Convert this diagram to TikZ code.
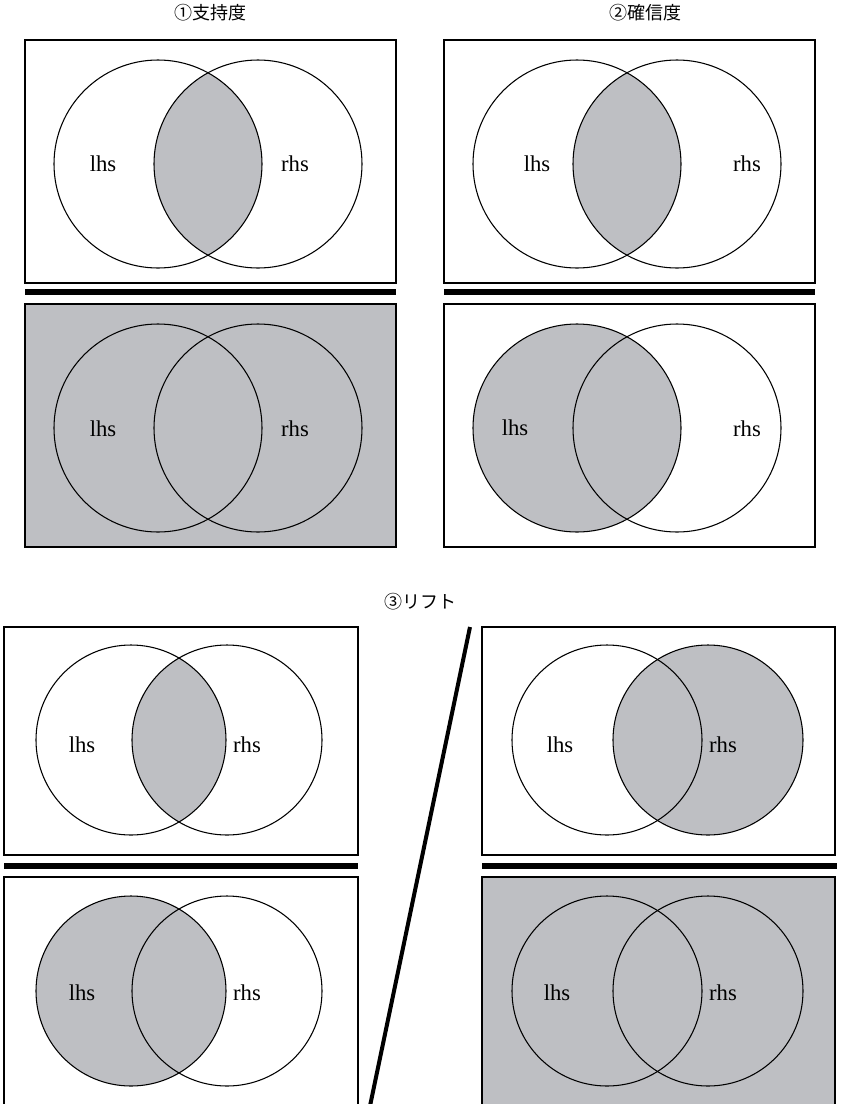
\documentclass[tikz,border=0pt]{standalone}
\usepackage{fontspec}
\setmainfont{Liberation Serif}
\newfontfamily\cjk{Noto Sans CJK JP}
\definecolor{vennfill}{RGB}{190,191,195}

\begin{document}
\begin{tikzpicture}[x=0.75pt,y=-0.75pt,
    box/.style={draw, line width=1.1pt},
    bar/.style={line width=4.6pt},
    venn/.style={draw, line width=0.8pt},
    lbl/.style={font=\fontsize{17}{20}\selectfont},
    ttl/.style={font=\cjk\fontsize{13.5}{16}\selectfont}]

        \useasboundingbox (0,0) rectangle (840,1104);

        % (1) support
        \node[ttl] (t1) at (210,13) {①支持度};
        \draw[box] (25,40) rectangle (396,283);
        \begin{scope}
            \clip (158,164) circle (104);
            \fill[vennfill] (258,164) circle (104);
        \end{scope}
        \draw[venn] (158,164) circle (104);
        \draw[venn] (258,164) circle (104);
        \node[lbl] (l1a) at (103,164) {lhs};
        \node[lbl] (r1a) at (295,164) {rhs};

        \draw[bar] (25,292) -- (396,292);

        \draw[box, fill=vennfill] (25,304) rectangle (396,547);
        \draw[venn] (158,428) circle (104);
        \draw[venn] (258,428) circle (104);
        \node[lbl] (l1b) at (103,429) {lhs};
        \node[lbl] (r1b) at (295,429) {rhs};

        % (2) confidence
        \node[ttl] (t2) at (645,13) {②確信度};
        \draw[box] (444,40) rectangle (815,283);
        \begin{scope}
            \clip (577,164) circle (104);
            \fill[vennfill] (677,164) circle (104);
        \end{scope}
        \draw[venn] (577,164) circle (104);
        \draw[venn] (677,164) circle (104);
        \node[lbl] (l2a) at (537,164) {lhs};
        \node[lbl] (r2a) at (747,164) {rhs};

        \draw[bar] (444,292) -- (815,292);

        \draw[box] (444,304) rectangle (815,547);
        \fill[vennfill] (577,428) circle (104);
        \draw[venn] (577,428) circle (104);
        \draw[venn] (677,428) circle (104);
        \node[lbl] (l2b) at (515,428) {lhs};
        \node[lbl] (r2b) at (747,429) {rhs};

        % (3) lift
        \node[ttl] (t3) at (420,602) {③リフト};

        \draw[box] (4,627) rectangle (358,855);
        \begin{scope}
            \clip (131,740) circle (95);
            \fill[vennfill] (227,740) circle (95);
        \end{scope}
        \draw[venn] (131,740) circle (95);
        \draw[venn] (227,740) circle (95);
        \node[lbl] (l3a) at (82,745) {lhs};
        \node[lbl] (r3a) at (247,745) {rhs};

        \draw[bar] (4,866) -- (358,866);

        \draw[box] (4,877) rectangle (358,1110);
        \fill[vennfill] (131,991) circle (95);
        \draw[venn] (131,991) circle (95);
        \draw[venn] (227,991) circle (95);
        \node[lbl] (l3b) at (82,993) {lhs};
        \node[lbl] (r3b) at (247,993) {rhs};

        \draw[line width=3pt] (470,627) -- (370,1106);

        \draw[box] (482,627) rectangle (835,855);
        \fill[vennfill] (708,740) circle (95);
        \draw[venn] (607,740) circle (95);
        \draw[venn] (708,740) circle (95);
        \node[lbl] (l3c) at (560,745) {lhs};
        \node[lbl] (r3c) at (723,745) {rhs};

        \draw[bar] (482,866) -- (837,866);

        \draw[box, fill=vennfill] (482,877) rectangle (835,1110);
        \draw[venn] (607,991) circle (95);
        \draw[venn] (708,991) circle (95);
        \node[lbl] (l3d) at (557,993) {lhs};
        \node[lbl] (r3d) at (723,993) {rhs};

\end{tikzpicture}
\end{document}
